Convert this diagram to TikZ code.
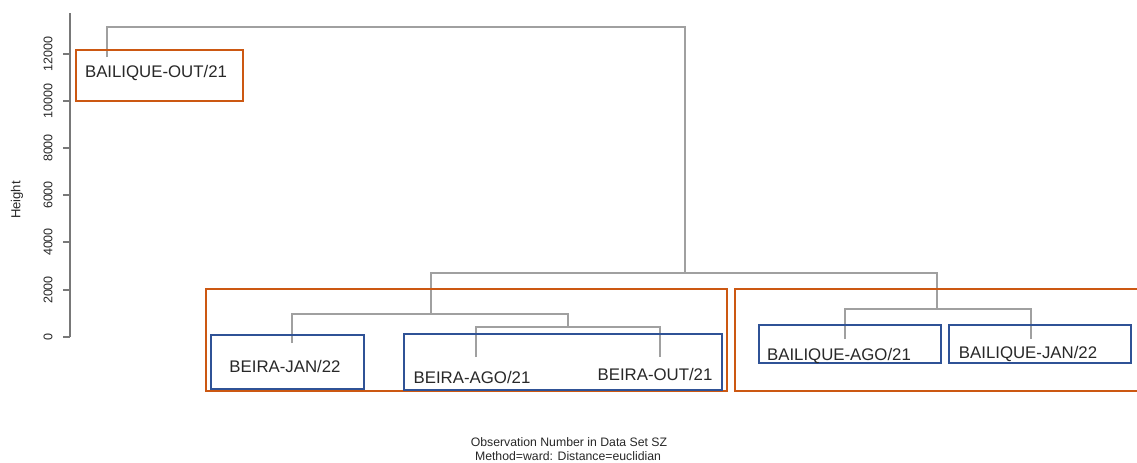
\documentclass[tikz,border=0pt]{standalone}
\usepackage{fontspec}
\setmainfont{Liberation Sans}
\definecolor{clorange}{RGB}{204,88,18}
\definecolor{clblue}{RGB}{47,82,150}
\definecolor{dgray}{RGB}{160,160,160}
\definecolor{agray}{RGB}{120,120,120}
\definecolor{tgray}{RGB}{40,40,40}
\tikzset{
  obox/.style={draw=clorange,line width=2pt},
  bbox/.style={draw=clblue,line width=1.6pt},
  dend/.style={draw=dgray,line width=1pt},
  axisline/.style={draw=agray,line width=0.8pt},
  leaflabel/.style={font=\fontsize{12.6}{14}\selectfont,text=tgray,inner sep=0pt},
  ticklabel/.style={font=\fontsize{9.4}{10}\selectfont,text=tgray,rotate=90,inner sep=0pt},
  caption/.style={font=\fontsize{9.2}{10.5}\selectfont,text=tgray,inner sep=0pt}
}
\begin{document}
\begin{tikzpicture}[x=0.75pt,y=-0.75pt]
\useasboundingbox[fill=white] (0,0) rectangle (1137,462);
% axis
\coordinate (axtop) at (70,13);
\coordinate (axbot) at (70,337);
\draw[axisline] (axtop) -- (axbot);
\foreach \v/\yy in {0/337,2000/290,4000/242,6000/195,8000/148,10000/101,12000/54}{
  \draw[axisline] (63,\yy) -- (70,\yy);
  \node[ticklabel] at (48,\yy) {\v};
}
\node[ticklabel,font=\fontsize{9.8}{11}\selectfont] (ylab) at (17,200) {Height};
% dendrogram coordinates
\coordinate (lBOut) at (107,57);
\coordinate (lJan) at (292,343);
\coordinate (lAgo) at (476,357);
\coordinate (lOut) at (660,357);
\coordinate (lBAgo) at (845,339);
\coordinate (lBJan) at (1031,339);
\coordinate (m1) at (568,327);
\coordinate (m2) at (431,314);
\coordinate (m4) at (937,309);
\coordinate (m3) at (685,273);
\coordinate (m5) at (400,27);
\draw[dend] (lAgo) |- (m1) -| (lOut);
\draw[dend] (lJan) |- (m2) -| (m1);
\draw[dend] (lBAgo) |- (m4) -| (lBJan);
\draw[dend] (m2) |- (m3) -| (m4);
\draw[dend] (lBOut) |- (m5) -| (m3);
% boxes
\draw[obox] (76,50) rectangle (243,101);
\draw[obox] (206,289) rectangle (727,391);
\draw[obox] (735,289) rectangle (1140,391);
\draw[bbox] (211,335) rectangle (364,389);
\draw[bbox] (404,334) rectangle (722,390);
\draw[bbox] (759,325) rectangle (941,363);
\draw[bbox] (949,325) rectangle (1131,363);
% labels
\node[leaflabel] (tBOut) at (156,73) {BAILIQUE-OUT/21};
\node[leaflabel] (tJan) at (285,366) {BEIRA-JAN/22};
\node[leaflabel] (tAgo) at (472,377) {BEIRA-AGO/21};
\node[leaflabel] (tOut) at (655,374) {BEIRA-OUT/21};
\node[leaflabel] (tBAgo) at (839,356) {BAILIQUE-AGO/21};
\node[leaflabel] (tBJan) at (1028,354) {BAILIQUE-JAN/22};
% caption
\node[caption] (cap1) at (569,442) {Observation Number in Data Set SZ};
\node[caption] (cap2) at (568,456) {Method=ward: Distance=euclidian};
\end{tikzpicture}
\end{document}
